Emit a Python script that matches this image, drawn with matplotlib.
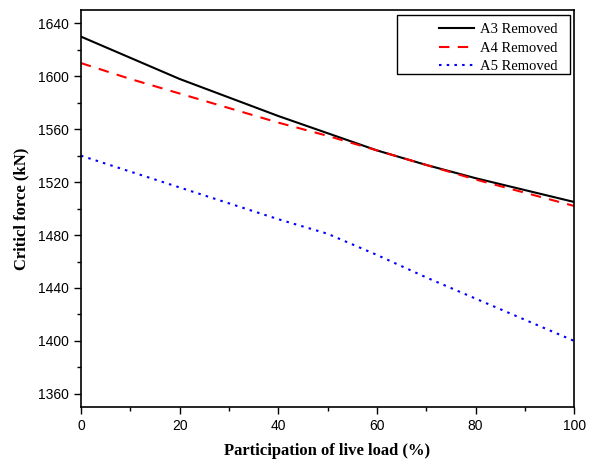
import matplotlib.pyplot as plt
from matplotlib.patches import Rectangle
from matplotlib.ticker import MultipleLocator

# participation of live load (%)
load = [0, 10, 20, 30, 40, 50, 60, 70, 80, 90, 100]

# critical force (kN)
a3_removed = [1630, 1614, 1598, 1584, 1570, 1557, 1544, 1533, 1523, 1514, 1505]
a4_removed = [1610, 1598, 1587, 1576, 1565, 1555, 1544, 1533, 1522, 1512, 1502]
a5_removed = [1540, 1528, 1516, 1504, 1492, 1481, 1465, 1448, 1432, 1416, 1400]

fig = plt.figure(figsize=(5.95, 4.61), dpi=100)
ax = fig.add_axes([0.136, 0.117, 0.829, 0.861])

ax.plot(load, a3_removed, color="black", lw=1.5, ls="-", label="A3 Removed")
ax.plot(load, a4_removed, color="red", lw=1.5, ls=(0, (5, 4)), label="A4 Removed")
ax.plot(load, a5_removed, color="blue", lw=1.5, ls=(0, (1.2, 2.5)), label="A5 Removed")

ax.set_xlim(0, 100)
ax.set_ylim(1350, 1650)
ax.xaxis.set_major_locator(MultipleLocator(20))
ax.xaxis.set_minor_locator(MultipleLocator(10))
ax.yaxis.set_major_locator(MultipleLocator(40))
ax.yaxis.set_minor_locator(MultipleLocator(20))
ax.tick_params(which="both", direction="out", top=False, right=False)
ax.tick_params(which="major", length=5, width=1, labelsize=10)
ax.tick_params(which="minor", length=3, width=1)
for lab in ax.get_xticklabels() + ax.get_yticklabels():
    lab.set_family("Liberation Sans")
for sp in ax.spines.values():
    sp.set_linewidth(1.2)

ax.set_xlabel("Participation of live load (%)", family="Liberation Serif",
              fontweight="bold", fontsize=12, labelpad=7)
ax.set_ylabel("Criticl force (kN)", family="Liberation Serif",
              fontweight="bold", fontsize=12, labelpad=6)

# legend box drawn separately (Origin style: wide frame, entries pushed right)
ax.add_patch(Rectangle((0.641, 0.839), 0.351, 0.148, transform=ax.transAxes,
                       facecolor="white", edgecolor="black", lw=1.0, zorder=4))
leg = ax.legend(loc="upper left", bbox_to_anchor=(0.725, 0.967), frameon=False,
                prop={"family": "Liberation Serif", "size": 10.5},
                borderpad=0, borderaxespad=0, handlelength=2.45,
                handletextpad=0.4, labelspacing=0.35)
leg.set_zorder(5)

fig.savefig("out.png", dpi=100)
